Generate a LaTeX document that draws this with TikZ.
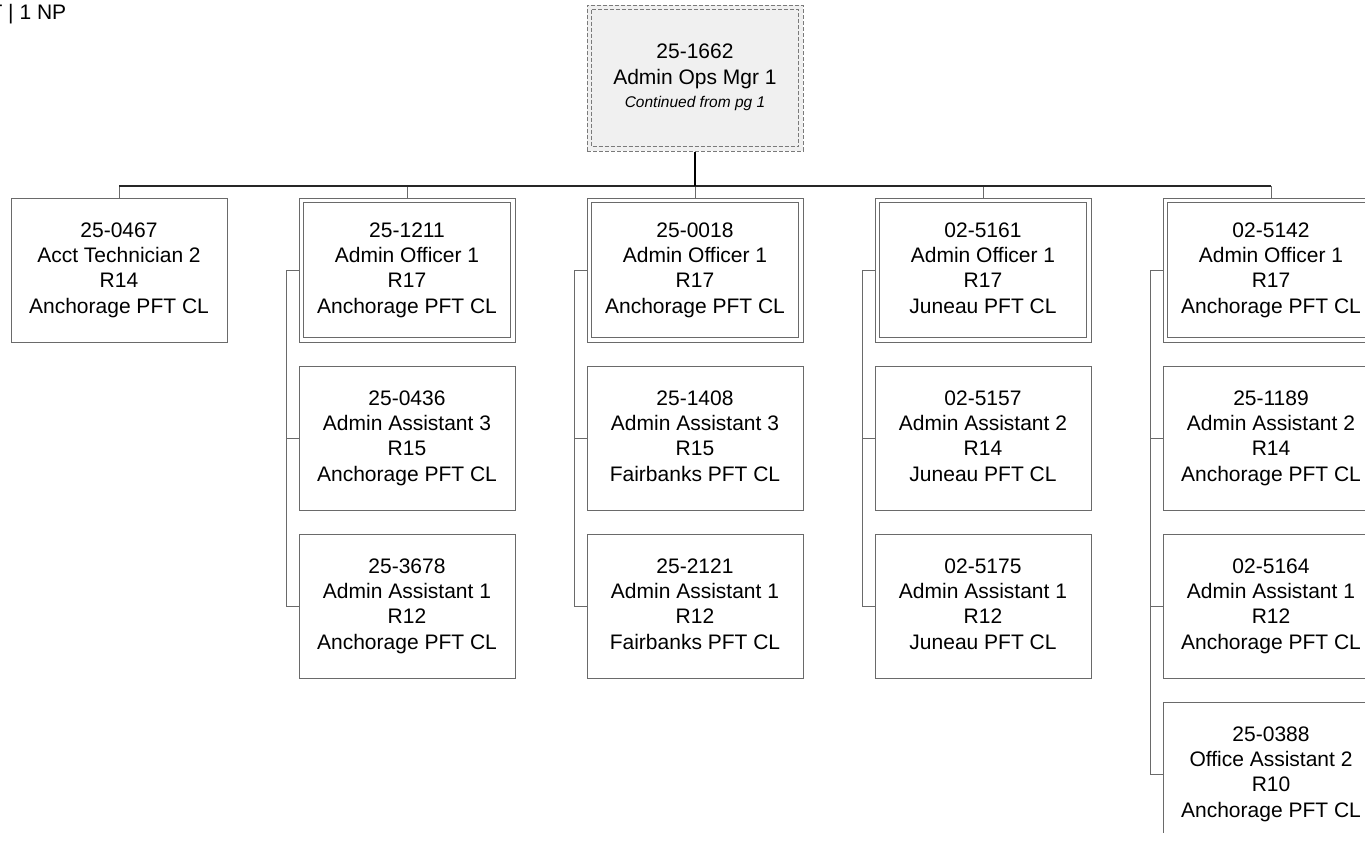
\documentclass[tikz,border=0pt]{standalone}
\usepackage{fontspec}
\setmainfont{Liberation Sans}
\definecolor{ln}{HTML}{6A6A6A}
\definecolor{topfill}{HTML}{F0F0F0}
\definecolor{dashln}{HTML}{7A7A7A}
\tikzset{
  box/.style={draw=ln, line width=1pt, minimum width=216pt, minimum height=144pt,
    inner sep=0pt, align=center, font=\fontsize{21}{25.3}\selectfont,
    execute at end node={\vphantom{g}}},
  conn/.style={draw=ln, line width=1pt},
  bus/.style={draw=black!85, line width=1.3pt},
  stem/.style={draw=black, line width=2pt},
  frame/.style={draw=ln, line width=1pt},
  topframe/.style={draw=dashln, line width=1pt, dash pattern=on 4pt off 2pt},
}
\begin{document}
\begin{tikzpicture}[x=1pt,y=-1pt]
\useasboundingbox (0,0) rectangle (1365,841);
\clip (0,0) rectangle (1365,832);

\node[anchor=base west, inner sep=0pt, font=\fontsize{21}{25}\selectfont] (pg) at (-10.6,19) {T | 1 NP};

\node[box, topframe, fill=topfill, minimum height=146pt] (top) at (695,78)
  {25-1662\\Admin Ops Mgr 1\\[-2pt]{\fontsize{15.5}{19}\selectfont\itshape Continued from pg 1}};
\draw[topframe] ([xshift=5pt,yshift=-5pt]top.north west) rectangle ([xshift=-5pt,yshift=5pt]top.south east);

% column 1
\node[box] (b11) at (119,270) {25-0467\\Acct Technician 2\\R14\\Anchorage PFT CL};
% column 2
\node[box] (b21) at (407,270) {25-1211\\Admin Officer 1\\R17\\Anchorage PFT CL};
\node[box] (b22) at (407,438) {25-0436\\Admin Assistant 3\\R15\\Anchorage PFT CL};
\node[box] (b23) at (407,606) {25-3678\\Admin Assistant 1\\R12\\Anchorage PFT CL};
% column 3
\node[box] (b31) at (695,270) {25-0018\\Admin Officer 1\\R17\\Anchorage PFT CL};
\node[box] (b32) at (695,438) {25-1408\\Admin Assistant 3\\R15\\Fairbanks PFT CL};
\node[box] (b33) at (695,606) {25-2121\\Admin Assistant 1\\R12\\Fairbanks PFT CL};
% column 4
\node[box] (b41) at (983,270) {02-5161\\Admin Officer 1\\R17\\Juneau PFT CL};
\node[box] (b42) at (983,438) {02-5157\\Admin Assistant 2\\R14\\Juneau PFT CL};
\node[box] (b43) at (983,606) {02-5175\\Admin Assistant 1\\R12\\Juneau PFT CL};
% column 5
\node[box] (b51) at (1271,270) {02-5142\\Admin Officer 1\\R17\\Anchorage PFT CL};
\node[box] (b52) at (1271,438) {25-1189\\Admin Assistant 2\\R14\\Anchorage PFT CL};
\node[box] (b53) at (1271,606) {02-5164\\Admin Assistant 1\\R12\\Anchorage PFT CL};
\node[box] (b54) at (1271,774) {25-0388\\Office Assistant 2\\R10\\Anchorage PFT CL};

% inner frames of double boxes
\foreach \n in {b21,b31,b41,b51}
  \draw[frame] ([xshift=5pt,yshift=-5pt]\n.north west) rectangle ([xshift=-5pt,yshift=5pt]\n.south east);

% connectors
\coordinate (j) at (695,186);
\foreach \n in {b11,b21,b31,b41,b51}
  \draw[conn] (\n.north |- j) -- (\n.north);
\draw[bus] (b11.north |- j) -- (b51.north |- j);
\draw[stem] (top.south) -- (j);

\draw[conn] (b21.west) -- ++(-12,0) |- (b23.west);
\draw[conn] (b22.west) -- ++(-12,0);
\draw[conn] (b31.west) -- ++(-12,0) |- (b33.west);
\draw[conn] (b32.west) -- ++(-12,0);
\draw[conn] (b41.west) -- ++(-12,0) |- (b43.west);
\draw[conn] (b42.west) -- ++(-12,0);
\draw[conn] (b51.west) -- ++(-12,0) |- (b54.west);
\draw[conn] (b52.west) -- ++(-12,0);
\draw[conn] (b53.west) -- ++(-12,0);
\end{tikzpicture}
\end{document}
